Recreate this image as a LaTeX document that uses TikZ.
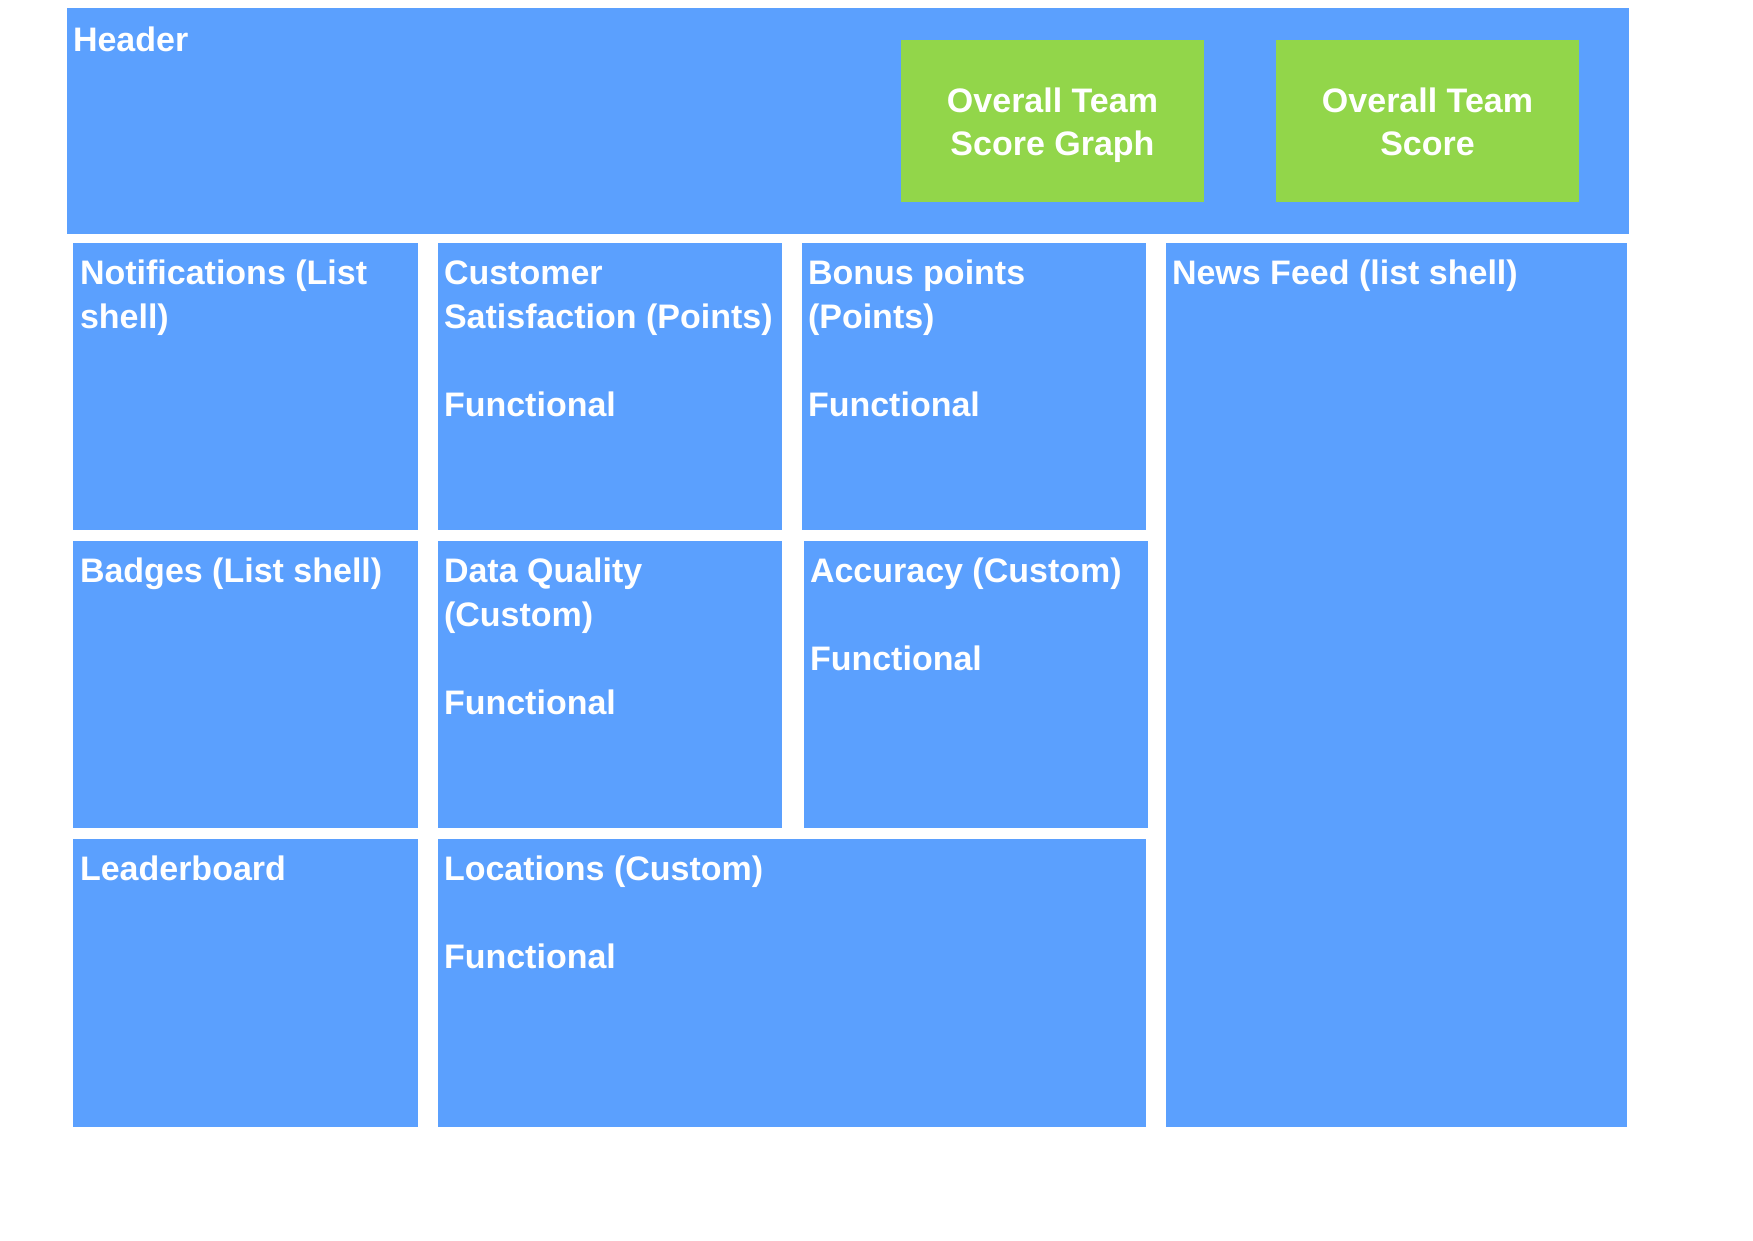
\documentclass[tikz,border=0pt]{standalone}
\usepackage{fontspec}
\setmainfont{Liberation Sans}
\definecolor{boxblue}{RGB}{91,160,254}
\definecolor{boxgreen}{RGB}{146,214,74}
\begin{document}
\begin{tikzpicture}[x=1pt,y=-1pt,
  bluebox/.style={rectangle, fill=boxblue, draw=none, inner sep=0pt, outer sep=0pt},
  greenbox/.style={rectangle, fill=boxgreen, draw=none, inner sep=0pt, outer sep=0pt},
  greenlbl/.style={inner sep=0pt, outer sep=0pt, text=white, align=center,
    font=\fontsize{34}{43}\selectfont\bfseries},
  lbl/.style={anchor=north west, inner sep=0pt, outer sep=0pt, text=white, align=left,
    font=\fontsize{34}{44}\selectfont\bfseries}
]
\useasboundingbox (0,0) rectangle (1753,1240);
\fill[white] (0,0) rectangle (1753,1240);

% header
\node[bluebox, minimum width=1562pt, minimum height=226pt] (header) at (848,121) {};
\node[lbl] (headerlbl) at ([xshift=6pt,yshift=-13pt]header.north west) {\strut Header};
\node[greenbox, minimum width=303pt, minimum height=162pt] (graph) at (1052.5,121) {};
\node[greenbox, minimum width=303pt, minimum height=162pt] (score) at (1427.5,121) {};
\node[greenlbl] (graphlbl) at ([yshift=-4pt]graph.center) {\strut Overall Team\\Score Graph\strut};
\node[greenlbl] (scorelbl) at ([yshift=-4pt]score.center) {\strut Overall Team\\Score\strut};

% row 1
\node[bluebox, minimum width=345pt, minimum height=287pt] (notif) at (245.5,386.5) {};
\node[bluebox, minimum width=344pt, minimum height=287pt] (custsat) at (610,386.5) {};
\node[bluebox, minimum width=344pt, minimum height=287pt] (bonus) at (974,386.5) {};
\node[bluebox, minimum width=461pt, minimum height=884pt] (news) at (1396.5,685) {};

% row 2
\node[bluebox, minimum width=345pt, minimum height=287pt] (badges) at (245.5,684.5) {};
\node[bluebox, minimum width=344pt, minimum height=287pt] (dataq) at (610,684.5) {};
\node[bluebox, minimum width=344pt, minimum height=287pt] (accuracy) at (976,684.5) {};

% row 3
\node[bluebox, minimum width=345pt, minimum height=288pt] (leader) at (245.5,983) {};
\node[bluebox, minimum width=708pt, minimum height=288pt] (locations) at (792,983) {};

% labels
\node[lbl] (notiflbl) at ([xshift=7pt,yshift=-10.5pt]notif.north west) {\strut Notifications (List\\shell)};
\node[lbl] (custsatlbl) at ([xshift=6pt,yshift=-10.5pt]custsat.north west) {\strut Customer\\Satisfaction (Points)\\[44pt]Functional};
\node[lbl] (bonuslbl) at ([xshift=6pt,yshift=-10.5pt]bonus.north west) {\strut Bonus points\\(Points)\\[44pt]Functional};
\node[lbl] (newslbl) at ([xshift=6pt,yshift=-10.5pt]news.north west) {\strut News Feed (list shell)};
\node[lbl] (badgeslbl) at ([xshift=7pt,yshift=-10.5pt]badges.north west) {\strut Badges (List shell)};
\node[lbl] (dataqlbl) at ([xshift=6pt,yshift=-10.5pt]dataq.north west) {\strut Data Quality\\(Custom)\\[44pt]Functional};
\node[lbl] (accuracylbl) at ([xshift=6pt,yshift=-10.5pt]accuracy.north west) {\strut Accuracy (Custom)\\[44pt]Functional};
\node[lbl] (leaderlbl) at ([xshift=7pt,yshift=-10.5pt]leader.north west) {\strut Leaderboard};
\node[lbl] (locationslbl) at ([xshift=6pt,yshift=-10.5pt]locations.north west) {\strut Locations (Custom)\\[44pt]Functional};
\end{tikzpicture}
\end{document}
